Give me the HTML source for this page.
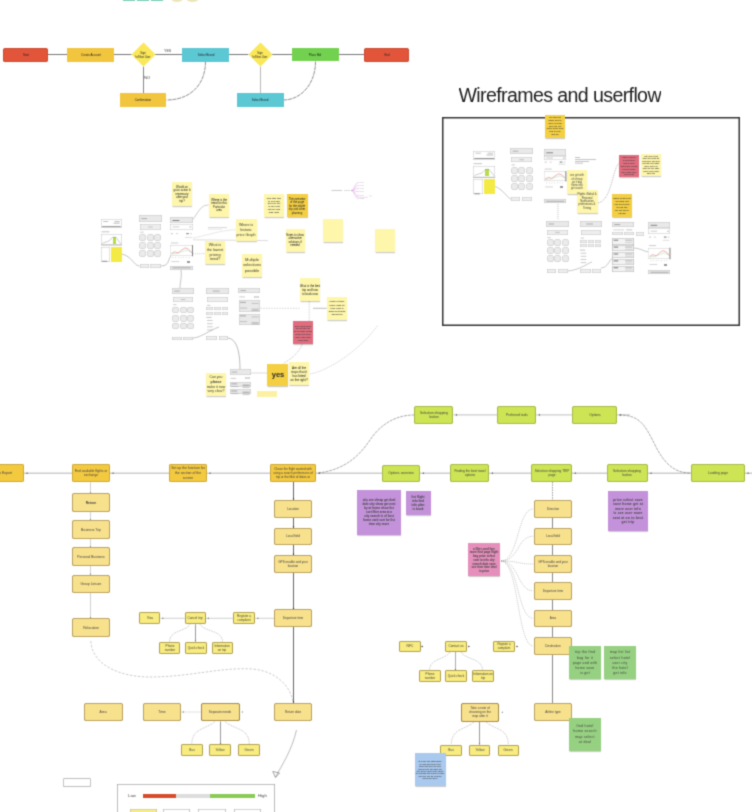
<!DOCTYPE html>
<html><head><meta charset="utf-8"><style>
html,body{margin:0;padding:0;background:#fff;}
body{width:752px;height:812px;position:relative;overflow:hidden;font-family:"Liberation Sans",sans-serif;}
#c>div{position:absolute;box-sizing:border-box;overflow:hidden;}
#c>div.n{overflow:visible}
svg{position:absolute;left:0;top:0;}
#wrap{position:absolute;left:0;top:0;width:752px;height:812px;background:#fff;filter:url(#bl);}
</style></head><body><svg width="0" height="0" style="position:absolute"><filter id="bl" x="0" y="0" width="100%" height="100%" color-interpolation-filters="sRGB"><feConvolveMatrix order="3" kernelMatrix="1 4 1 4 16 4 1 4 1" edgeMode="duplicate"/></filter></svg><div id="wrap">
<svg width="752" height="812" viewBox="0 0 752 812">
<line x1="48" y1="54.5" x2="67" y2="54.5" stroke="#555" stroke-width="0.8"/>
<line x1="114" y1="54.5" x2="131.5" y2="54.5" stroke="#555" stroke-width="0.8"/>
<line x1="154.7" y1="54.5" x2="182" y2="54.5" stroke="#555" stroke-width="0.8"/>
<line x1="229" y1="54.5" x2="248.4" y2="54.5" stroke="#555" stroke-width="0.8"/>
<line x1="271.9" y1="54.5" x2="292" y2="54.5" stroke="#555" stroke-width="0.8"/>
<line x1="338.7" y1="54.5" x2="364" y2="54.5" stroke="#555" stroke-width="0.8"/>
<line x1="143.5" y1="66.6" x2="143.5" y2="93.4" stroke="#666" stroke-width="0.8"/>
<line x1="260.5" y1="66.5" x2="260.5" y2="93.4" stroke="#999" stroke-width="0.7"/>
<path d="M205.5,61.5 C205.5,85 190,100 166.5,100" fill="none" stroke="#333" stroke-width="0.55" stroke-dasharray="4,0.7"/>
<path d="M315.5,61.5 C315.5,85 300,100 283.5,100" fill="none" stroke="#333" stroke-width="0.55" stroke-dasharray="4,0.7"/>
<path d="M494,186 C505,190 508,200 512,199" fill="none" stroke="#777" stroke-width="0.4"/>
<line x1="557.9" y1="204" x2="557.9" y2="220" stroke="#888" stroke-width="0.5" stroke-dasharray="1,1"/>
<path d="M598,203 C612,200 612,170 619,163" fill="none" stroke="#777" stroke-width="0.5" stroke-dasharray="1,0.8"/>
<path d="M568,271 C580,270 590,262 592,262" fill="none" stroke="#777" stroke-width="0.4"/>
<path d="M601,268 C608,268 610,258 613,258" fill="none" stroke="#777" stroke-width="0.4"/>
<path d="M634,248 C640,248 645,252 649,252" fill="none" stroke="#777" stroke-width="0.4"/>
<path d="M121.5,254 C132,256 134,266 139.5,266" fill="none" stroke="#888" stroke-width="0.5"/>
<path d="M161,266 C170,266 168,258 171,256" fill="none" stroke="#888" stroke-width="0.5"/>
<path d="M191,222 C199,212 200,205 208.6,205" fill="none" stroke="#999" stroke-width="0.5"/>
<path d="M193,238 C205,236 225,229 236,230" fill="none" stroke="#aaa" stroke-width="0.45" stroke-dasharray="1.2,0.8"/>
<line x1="193" y1="253.9" x2="205.3" y2="253.5" stroke="#aaa" stroke-width="0.5" stroke-dasharray="1.2,0.8"/>
<line x1="193" y1="239.8" x2="268" y2="240.6" stroke="#bbb" stroke-width="0.5"/>
<path d="M181,270 C182,278 180,282 180,288" fill="none" stroke="#888" stroke-width="0.5"/>
<path d="M193,338 C200,338 210,330 219,327" fill="none" stroke="#888" stroke-width="0.5"/>
<path d="M227,338 C236,338 240,350 240,369" fill="none" stroke="#777" stroke-width="0.5"/>
<line x1="251.4" y1="373" x2="267.4" y2="373" stroke="#888" stroke-width="0.5" stroke-dasharray="1.2,0.8"/>
<path d="M302,344 C300,352 290,360 283,363.5" fill="none" stroke="#999" stroke-width="0.5" stroke-dasharray="1.2,0.8"/>
<path d="M310,374 C330,370 360,350 378,325" fill="none" stroke="#aaa" stroke-width="0.5" stroke-dasharray="1.5,1"/>
<line x1="260.5" y1="308.3" x2="299.5" y2="308.3" stroke="#aaa" stroke-width="0.5" stroke-dasharray="1.5,1.2"/>
<line x1="313" y1="308.3" x2="326.6" y2="308.3" stroke="#777" stroke-width="0.5"/>
<line x1="309.2" y1="301" x2="309.2" y2="321" stroke="#999" stroke-width="0.5" stroke-dasharray="0.8,0.8"/>
<path d="M351,190.5 C355,190.5 354,182.5 359,182.5" fill="none" stroke="#d9a0e0" stroke-width="0.5"/>
<path d="M351,190.5 C355,190.5 354,185.5 359,185.5" fill="none" stroke="#d9a0e0" stroke-width="0.5"/>
<path d="M351,190.5 C355,190.5 354,188.5 359,188.5" fill="none" stroke="#d9a0e0" stroke-width="0.5"/>
<path d="M351,190.5 C355,190.5 354,191.5 359,191.5" fill="none" stroke="#d9a0e0" stroke-width="0.5"/>
<path d="M351,190.5 C355,190.5 354,195.5 359,195.5" fill="none" stroke="#d9a0e0" stroke-width="0.5"/>
<path d="M351,190.5 C355,190.5 354,198.5 359,198.5" fill="none" stroke="#d9a0e0" stroke-width="0.5"/>
<path d="M356,196 C360,198 364,198 368,197" fill="none" stroke="#d9a0e0" stroke-width="0.4"/>
<line x1="0" y1="473.2" x2="752" y2="473.2" stroke="#cccccc" stroke-width="1.4"/>
<line x1="453.5" y1="414.9" x2="497.4" y2="414.9" stroke="#cccccc" stroke-width="1.2"/>
<line x1="536.2" y1="414.9" x2="572.4" y2="414.9" stroke="#cccccc" stroke-width="1.2"/>
<line x1="617" y1="414.9" x2="630" y2="414.9" stroke="#cccccc" stroke-width="1.2"/>
<polygon points="26,473.2 27.5,472.3 27.5,474.1" fill="#444"/>
<polygon points="112,473.2 113.5,472.3 113.5,474.1" fill="#444"/>
<polygon points="209,473.2 210.5,472.3 210.5,474.1" fill="#444"/>
<polygon points="318.5,473.2 320,472.3 320,474.1" fill="#444"/>
<polygon points="422.5,473.2 424,472.3 424,474.1" fill="#444"/>
<polygon points="491.5,473.2 493,472.3 493,474.1" fill="#444"/>
<polygon points="574.3,473.2 575.8,472.3 575.8,474.1" fill="#444"/>
<polygon points="650,473.2 651.5,472.3 651.5,474.1" fill="#444"/>
<polygon points="747,473.2 748.5,472.3 748.5,474.1" fill="#444"/>
<polygon points="455.5,414.9 457,414 457,415.8" fill="#444"/>
<polygon points="538.5,414.9 540,414 540,415.8" fill="#444"/>
<polygon points="619.5,414.9 621,414 621,415.8" fill="#444"/>
<path d="M318,473 C345,470 360,455 370,440 C380,425 395,415 414,415" fill="none" stroke="#666" stroke-width="0.55" stroke-dasharray="3,0.8"/>
<path d="M619,415 C640,415 645,425 655,445 C665,465 675,473 691,473" fill="none" stroke="#666" stroke-width="0.55" stroke-dasharray="3,0.8"/>
<line x1="90.5" y1="482.2" x2="90.5" y2="618.3" stroke="#bbb" stroke-width="0.7"/>
<polygon points="90.5,493.4 89.8,492.2 91.2,492.2" fill="#666"/>
<polygon points="90.5,520.4 89.8,519.2 91.2,519.2" fill="#666"/>
<polygon points="90.5,547.4 89.8,546.2 91.2,546.2" fill="#666"/>
<polygon points="90.5,575 89.8,573.8 91.2,573.8" fill="#666"/>
<polygon points="90.5,618.3 89.8,617.1 91.2,617.1" fill="#666"/>
<line x1="293.5" y1="481.9" x2="293.5" y2="703" stroke="#333" stroke-width="0.75"/>
<polygon points="293.5,499.8 292.7,498.4 294.3,498.4" fill="#222"/>
<polygon points="293.5,527.9 292.7,526.5 294.3,526.5" fill="#222"/>
<polygon points="293.5,555.2 292.7,553.8 294.3,553.8" fill="#222"/>
<polygon points="293.5,609.4 292.7,608 294.3,608" fill="#222"/>
<polygon points="293.5,703 292.7,701.6 294.3,701.6" fill="#222"/>
<line x1="552.5" y1="517.8" x2="552.5" y2="703.2" stroke="#555" stroke-width="0.7"/>
<line x1="552.5" y1="482" x2="552.5" y2="500" stroke="#777" stroke-width="0.7" stroke-dasharray="1.5,1"/>
<line x1="255.3" y1="618.3" x2="274.3" y2="618.3" stroke="#bbb" stroke-width="0.7"/>
<polygon points="257,618.3 258.2,617.6 258.2,619" fill="#444"/>
<line x1="205.8" y1="618.3" x2="232.7" y2="618.3" stroke="#bbb" stroke-width="0.7"/>
<polygon points="207.5,618.3 208.7,617.6 208.7,619" fill="#444"/>
<line x1="160.3" y1="618.3" x2="184.9" y2="618.3" stroke="#bbb" stroke-width="0.7"/>
<polygon points="162,618.3 163.2,617.6 163.2,619" fill="#444"/>
<line x1="195.5" y1="624.3" x2="195.5" y2="641.5" stroke="#555" stroke-width="0.6"/>
<polygon points="195.5,641.5 194.8,640.4 196.2,640.4" fill="#444"/>
<path d="M190,624.3 C185,632 170,630 169.6,641.5" fill="none" stroke="#888" stroke-width="0.5" stroke-dasharray="1,0.8"/>
<path d="M200,624.3 C205,632 222,630 222.5,641.5" fill="none" stroke="#888" stroke-width="0.5" stroke-dasharray="1,0.8"/>
<line x1="181" y1="712" x2="200.9" y2="712" stroke="#ccc" stroke-width="0.6"/>
<polygon points="182.5,712 183.6,711.3 183.6,712.7" fill="#444"/>
<polygon points="241.5,712 242.6,711.3 242.6,712.7" fill="#444"/>
<line x1="220.5" y1="721.5" x2="220.5" y2="744.1" stroke="#555" stroke-width="0.6"/>
<polygon points="220.5,744.1 219.8,743 221.2,743" fill="#444"/>
<path d="M215,721.5 C205,730 192,728 191.8,744.1" fill="none" stroke="#888" stroke-width="0.5" stroke-dasharray="1,0.8"/>
<path d="M225,721.5 C235,730 249,728 249.3,744.1" fill="none" stroke="#888" stroke-width="0.5" stroke-dasharray="1,0.8"/>
<path d="M90.8,641 C92,665 120,677 150,677 C190,677 220,667 253,669 C280,672 292,690 293,703" fill="none" stroke="#aaa" stroke-width="0.6" stroke-dasharray="2.5,1.5"/>
<path d="M296.5,730 C292,750 282,765 275.5,777" fill="none" stroke="#777" stroke-width="0.5"/>
<path d="M272.8,771.5 L275.5,777.5 L279.5,773 Z" fill="none" stroke="#666" stroke-width="0.6"/>
<circle cx="422.2" cy="646.4" r="0.75" fill="#333"/>
<circle cx="468.8" cy="646.4" r="0.75" fill="#333"/>
<circle cx="517" cy="646.4" r="0.75" fill="#333"/>
<line x1="455.5" y1="652" x2="455.5" y2="670.1" stroke="#444" stroke-width="0.45"/>
<polygon points="455.5,670.1 454.8,669 456.2,669" fill="#444"/>
<path d="M450,652 C445,660 430,658 429.5,670.1" fill="none" stroke="#888" stroke-width="0.5" stroke-dasharray="1,0.8"/>
<path d="M461,652 C466,660 482,658 482.6,670.1" fill="none" stroke="#888" stroke-width="0.5" stroke-dasharray="1,0.8"/>
<polygon points="501.5,712.3 502.6,711.6 502.6,713" fill="#444"/>
<line x1="479.5" y1="721.9" x2="479.5" y2="744.5" stroke="#555" stroke-width="0.6"/>
<polygon points="479.5,744.5 478.8,743.4 480.2,743.4" fill="#444"/>
<path d="M474,721.9 C465,730 452,728 451.2,744.5" fill="none" stroke="#888" stroke-width="0.5" stroke-dasharray="1,0.8"/>
<path d="M486,721.9 C495,730 508,728 508.3,744.5" fill="none" stroke="#888" stroke-width="0.5" stroke-dasharray="1,0.8"/>
<path d="M501,561 C519,561 517,509 533.3,509" fill="none" stroke="#999" stroke-width="0.5" stroke-dasharray="1.2,0.9"/>
<path d="M501,561 C519,561 517,536.2 533.3,536.2" fill="none" stroke="#999" stroke-width="0.5" stroke-dasharray="1.2,0.9"/>
<path d="M501,561 C519,561 517,564 533.3,564" fill="none" stroke="#999" stroke-width="0.5" stroke-dasharray="1.2,0.9"/>
<path d="M501,561 C519,561 517,590.8 533.3,590.8" fill="none" stroke="#999" stroke-width="0.5" stroke-dasharray="1.2,0.9"/>
<path d="M501,561 C519,561 517,618.2 533.3,618.2" fill="none" stroke="#999" stroke-width="0.5" stroke-dasharray="1.2,0.9"/>
<path d="M501,561 C519,561 517,646 533.3,646" fill="none" stroke="#999" stroke-width="0.5" stroke-dasharray="1.2,0.9"/>
</svg>
<div id="c">
<div style="left:122.6px;top:-2px;width:12px;height:3px;background:#7fcfb8;"></div>
<div style="left:137px;top:-2px;width:11.6px;height:3px;background:#7fcfb8;"></div>
<div style="left:151px;top:-2px;width:12px;height:3px;background:#7fcfb8;"></div>
<div style="left:171.8px;top:-3px;width:10.7px;height:4.6px;background:#ece5b8;border-radius:50%;"></div>
<div style="left:186.9px;top:-3px;width:10.9px;height:4.6px;background:#ece5b8;border-radius:50%;"></div>
<div style="left:3px;top:48px;width:45px;height:13.5px;background:#E2553A;border-radius:2.5px;box-shadow:inset 0 0 0 0.8px #C8472E;"><div style="position:absolute;left:50%;top:50%;width:213px;transform:translate(-50%,-50%) scale(0.2);font-size:14.5px;line-height:1.38;color:#222;text-align:center;">Start</div></div>
<div style="left:67px;top:48px;width:47px;height:13.5px;background:#F2C53E;border-radius:0px;"><div style="position:absolute;left:50%;top:50%;width:223px;transform:translate(-50%,-50%) scale(0.2);font-size:14.5px;line-height:1.38;color:#222;text-align:center;">Create Account</div></div>
<div style="left:182px;top:48px;width:47px;height:13.5px;background:#5CC8D4;border-radius:0px;"><div style="position:absolute;left:50%;top:50%;width:223px;transform:translate(-50%,-50%) scale(0.2);font-size:14.5px;line-height:1.38;color:#222;text-align:center;">Select Brand</div></div>
<div style="left:292.2px;top:47.6px;width:46.5px;height:13.9px;background:#72D24F;border-radius:0px;"><div style="position:absolute;left:50%;top:50%;width:220.5px;transform:translate(-50%,-50%) scale(0.2);font-size:14.5px;line-height:1.38;color:#222;text-align:center;">Place Bid</div></div>
<div style="left:364.2px;top:48px;width:45.3px;height:13.5px;background:#E2553A;border-radius:2.5px;box-shadow:inset 0 0 0 0.8px #C8472E;"><div style="position:absolute;left:50%;top:50%;width:214.5px;transform:translate(-50%,-50%) scale(0.2);font-size:14.5px;line-height:1.38;color:#222;text-align:center;">End</div></div>
<div style="left:119.6px;top:93.4px;width:46.9px;height:13.6px;background:#F2C53E;border-radius:0px;"><div style="position:absolute;left:50%;top:50%;width:222.5px;transform:translate(-50%,-50%) scale(0.2);font-size:14.5px;line-height:1.38;color:#222;text-align:center;">Confirmation</div></div>
<div style="left:237px;top:93.4px;width:46.5px;height:13.4px;background:#5CC8D4;border-radius:0px;"><div style="position:absolute;left:50%;top:50%;width:220.5px;transform:translate(-50%,-50%) scale(0.2);font-size:14.5px;line-height:1.38;color:#222;text-align:center;">Select Brand</div></div>
<div style="left:134.7px;top:45.9px;width:16.8px;height:17.2px;background:#FAE75A;transform:rotate(45deg) scale(1,1);"></div>
<div style="left:133.1px;top:49.5px;width:20px;height:10px;overflow:visible;"><div style="position:absolute;left:50%;top:50%;transform:translate(-50%,-50%) scale(0.2);font-size:13.5px;line-height:1.3;color:#222;text-align:center;white-space:nowrap;">Sign<br>In/New User</div></div>
<div style="left:251.6px;top:45.9px;width:16.8px;height:17.2px;background:#FAE75A;transform:rotate(45deg) scale(1,1);"></div>
<div style="left:250px;top:49.5px;width:20px;height:10px;overflow:visible;"><div style="position:absolute;left:50%;top:50%;transform:translate(-50%,-50%) scale(0.2);font-size:13.5px;line-height:1.3;color:#222;text-align:center;white-space:nowrap;">Sign<br>In/New User</div></div>
<div class="n" style="left:163.8px;top:51.2px;width:0;height:0;"><div style="position:absolute;left:0;top:0;white-space:nowrap;font-size:18px;line-height:1;color:#444;transform:translate(0,-50%) scale(0.2);transform-origin:0 50%;">YES</div></div>
<div class="n" style="left:144.2px;top:77.2px;width:0;height:0;"><div style="position:absolute;left:0;top:0;white-space:nowrap;font-size:21px;line-height:1;color:#444;transform:translate(0,-50%) scale(0.2);transform-origin:0 50%;">NO</div></div>
<div style="left:458.5px;top:85.9px;font-size:19.6px;letter-spacing:-0.62px;color:#1c1c1c;white-space:nowrap;line-height:1">Wireframes and userflow</div>
<div style="left:442px;top:117px;width:298px;height:208.5px;box-shadow:inset 0 0 0 1.5px #333;"></div>
<div style="left:473.2px;top:150.6px;width:22.1px;height:9.6px;background:#fff;box-shadow:inset 0 0 0 0.5px #c6c6c6;"></div>
<div style="left:473.2px;top:165.9px;width:22.1px;height:11.8px;background:#fff;box-shadow:inset 0 0 0 0.5px #c6c6c6;"></div>
<div style="left:485.4px;top:169px;width:3.8px;height:7.4px;background:#b6dd4a;"></div>
<div style="left:473.2px;top:179.4px;width:9.7px;height:14.9px;background:#fff;box-shadow:inset 0 0 0 0.5px #c6c6c6;"></div>
<div style="left:483.8px;top:179.4px;width:11.5px;height:14.9px;background:#f4ea46;"></div>
<div style="left:510.4px;top:148.1px;width:22.6px;height:6.3px;background:#e9e9e9;box-shadow:inset 0 0 0 0.5px #c6c6c6;"></div>
<div style="left:511.3px;top:157px;width:20.8px;height:5.2px;background:#eee;box-shadow:inset 0 0 0 0.5px #c6c6c6;"></div>
<div style="left:510.7px;top:166.6px;width:7px;height:7px;background:#ebebeb;border-radius:50%;box-shadow:inset 0 0 0 0.5px #c8c8c8;"></div>
<div style="left:518.2px;top:166.6px;width:7px;height:7px;background:#ebebeb;border-radius:50%;box-shadow:inset 0 0 0 0.5px #c8c8c8;"></div>
<div style="left:525.7px;top:166.6px;width:7px;height:7px;background:#ebebeb;border-radius:50%;box-shadow:inset 0 0 0 0.5px #c8c8c8;"></div>
<div style="left:510.7px;top:174.8px;width:7px;height:7px;background:#ebebeb;border-radius:50%;box-shadow:inset 0 0 0 0.5px #c8c8c8;"></div>
<div style="left:518.2px;top:174.8px;width:7px;height:7px;background:#ebebeb;border-radius:50%;box-shadow:inset 0 0 0 0.5px #c8c8c8;"></div>
<div style="left:525.7px;top:174.8px;width:7px;height:7px;background:#ebebeb;border-radius:50%;box-shadow:inset 0 0 0 0.5px #c8c8c8;"></div>
<div style="left:510.7px;top:182.7px;width:7px;height:7px;background:#ebebeb;border-radius:50%;box-shadow:inset 0 0 0 0.5px #c8c8c8;"></div>
<div style="left:518.2px;top:182.7px;width:7px;height:7px;background:#ebebeb;border-radius:50%;box-shadow:inset 0 0 0 0.5px #c8c8c8;"></div>
<div style="left:525.7px;top:182.7px;width:7px;height:7px;background:#ebebeb;border-radius:50%;box-shadow:inset 0 0 0 0.5px #c8c8c8;"></div>
<div style="left:510.9px;top:196.9px;width:9.5px;height:3.7px;background:#eee;box-shadow:inset 0 0 0 0.5px #c6c6c6;"></div>
<div style="left:521.7px;top:196.9px;width:10.4px;height:3.7px;background:#eee;box-shadow:inset 0 0 0 0.5px #c6c6c6;"></div>
<div style="left:544px;top:149px;width:22.4px;height:6.5px;background:#e9e9e9;box-shadow:inset 0 0 0 0.5px #c6c6c6;"></div>
<div style="left:544px;top:156px;width:22.4px;height:3.9px;background:#fff;box-shadow:inset 0 0 0 0.5px #c6c6c6;"></div>
<div style="left:544px;top:171.2px;width:22.4px;height:10.3px;background:#fff;box-shadow:inset 0 0 0 0.4px #ccc;"></div>
<div style="left:560.1px;top:185.9px;width:2.9px;height:2.2px;background:#999;"></div>
<div style="left:544px;top:199.4px;width:22.4px;height:3.8px;background:#e6e6e6;box-shadow:inset 0 0 0 0.5px #c6c6c6;"></div>
<div style="left:546.2px;top:220.9px;width:22.7px;height:6.3px;background:#e9e9e9;box-shadow:inset 0 0 0 0.5px #c6c6c6;"></div>
<div style="left:547.1px;top:229.8px;width:20.9px;height:5.2px;background:#eee;box-shadow:inset 0 0 0 0.5px #c6c6c6;"></div>
<div style="left:546.5px;top:239.3px;width:7px;height:7px;background:#ebebeb;border-radius:50%;box-shadow:inset 0 0 0 0.5px #c8c8c8;"></div>
<div style="left:554px;top:239.3px;width:7px;height:7px;background:#ebebeb;border-radius:50%;box-shadow:inset 0 0 0 0.5px #c8c8c8;"></div>
<div style="left:561.5px;top:239.3px;width:7px;height:7px;background:#ebebeb;border-radius:50%;box-shadow:inset 0 0 0 0.5px #c8c8c8;"></div>
<div style="left:546.5px;top:247.3px;width:7px;height:7px;background:#ebebeb;border-radius:50%;box-shadow:inset 0 0 0 0.5px #c8c8c8;"></div>
<div style="left:554px;top:247.3px;width:7px;height:7px;background:#ebebeb;border-radius:50%;box-shadow:inset 0 0 0 0.5px #c8c8c8;"></div>
<div style="left:561.5px;top:247.3px;width:7px;height:7px;background:#ebebeb;border-radius:50%;box-shadow:inset 0 0 0 0.5px #c8c8c8;"></div>
<div style="left:546.5px;top:255.2px;width:7px;height:7px;background:#ebebeb;border-radius:50%;box-shadow:inset 0 0 0 0.5px #c8c8c8;"></div>
<div style="left:554px;top:255.2px;width:7px;height:7px;background:#ebebeb;border-radius:50%;box-shadow:inset 0 0 0 0.5px #c8c8c8;"></div>
<div style="left:561.5px;top:255.2px;width:7px;height:7px;background:#ebebeb;border-radius:50%;box-shadow:inset 0 0 0 0.5px #c8c8c8;"></div>
<div style="left:546.7px;top:269.4px;width:9.5px;height:3.6px;background:#eee;box-shadow:inset 0 0 0 0.5px #c6c6c6;"></div>
<div style="left:557.5px;top:269.4px;width:10.4px;height:3.6px;background:#eee;box-shadow:inset 0 0 0 0.5px #c6c6c6;"></div>
<div style="left:579.6px;top:220.9px;width:22.3px;height:6.3px;background:#e9e9e9;box-shadow:inset 0 0 0 0.5px #c6c6c6;"></div>
<div style="left:580.5px;top:229.8px;width:20.5px;height:5.2px;background:#eee;box-shadow:inset 0 0 0 0.5px #c6c6c6;"></div>
<div style="left:580px;top:239.7px;width:6.7px;height:3.1px;background:#eee;box-shadow:inset 0 0 0 0.4px #c6c6c6;"></div>
<div style="left:587.6px;top:239.7px;width:6.2px;height:3.1px;background:#eee;box-shadow:inset 0 0 0 0.4px #c6c6c6;"></div>
<div style="left:594.8px;top:239.7px;width:6.7px;height:3.1px;background:#eee;box-shadow:inset 0 0 0 0.4px #c6c6c6;"></div>
<div style="left:580px;top:244.3px;width:6.7px;height:3.1px;background:#eee;box-shadow:inset 0 0 0 0.4px #c6c6c6;"></div>
<div style="left:587.6px;top:244.3px;width:6.2px;height:3.1px;background:#eee;box-shadow:inset 0 0 0 0.4px #c6c6c6;"></div>
<div style="left:594.8px;top:244.3px;width:6.7px;height:3.1px;background:#eee;box-shadow:inset 0 0 0 0.4px #c6c6c6;"></div>
<div style="left:580px;top:268.8px;width:10.7px;height:4.2px;background:#eee;box-shadow:inset 0 0 0 0.5px #c6c6c6;"></div>
<div style="left:591.9px;top:268.8px;width:9.6px;height:4.2px;background:#eee;box-shadow:inset 0 0 0 0.5px #c6c6c6;"></div>
<div style="left:612.2px;top:221.9px;width:22.1px;height:5.4px;background:#e9e9e9;box-shadow:inset 0 0 0 0.5px #c6c6c6;"></div>
<div style="left:612.2px;top:232.1px;width:11px;height:3.4px;background:#eee;box-shadow:inset 0 0 0 0.4px #c6c6c6;"></div>
<div style="left:623.7px;top:232.1px;width:10.6px;height:3.4px;background:#eee;box-shadow:inset 0 0 0 0.4px #c6c6c6;"></div>
<div style="left:635.6px;top:232.2px;width:8.1px;height:3.8px;background:#eee;box-shadow:inset 0 0 0 0.4px #c6c6c6;"></div>
<div style="left:612.2px;top:238.4px;width:22.1px;height:6.2px;background:#f3f3f3;box-shadow:inset 0 0 0 0.6px #b5b5b5;"></div>
<div style="left:612.2px;top:245.3px;width:22.1px;height:6.2px;background:#f3f3f3;box-shadow:inset 0 0 0 0.6px #b5b5b5;"></div>
<div style="left:612.2px;top:252.2px;width:22.1px;height:6.2px;background:#f3f3f3;box-shadow:inset 0 0 0 0.6px #b5b5b5;"></div>
<div style="left:612.2px;top:259.1px;width:22.1px;height:6.2px;background:#f3f3f3;box-shadow:inset 0 0 0 0.6px #b5b5b5;"></div>
<div style="left:612.2px;top:266px;width:22.1px;height:6.2px;background:#f3f3f3;box-shadow:inset 0 0 0 0.6px #b5b5b5;"></div>
<div style="left:648.4px;top:221.6px;width:22.1px;height:6.3px;background:#e9e9e9;box-shadow:inset 0 0 0 0.5px #c6c6c6;"></div>
<div style="left:648.4px;top:228.4px;width:22.1px;height:5.6px;background:#fff;box-shadow:inset 0 0 0 0.5px #c6c6c6;"></div>
<div style="left:648.4px;top:247.7px;width:22.1px;height:11.6px;background:#fff;box-shadow:inset 0 0 0 0.4px #ccc;"></div>
<div style="left:664.3px;top:263.5px;width:2.9px;height:2.1px;background:#999;"></div>
<div style="left:648.4px;top:270.4px;width:22.1px;height:3.7px;background:#e6e6e6;box-shadow:inset 0 0 0 0.5px #c6c6c6;"></div>
<div style="left:544.9px;top:114.5px;width:20.2px;height:23.4px;background:#F4CF42;box-shadow:0.3px 1.4px 1px -0.3px rgba(0,0,0,.22);"><div style="position:absolute;left:50%;top:50%;transform:translate(-50%,-50%) scale(0.2);font-size:11px;line-height:1.25;color:#444;text-align:center;font-weight:bold;white-space:nowrap;">on stay get<br>home fare to<br>price in view<br>fare city list<br>more book area<br>trip a view<br>and go</div></div>
<div style="left:567px;top:169.8px;width:20.2px;height:23.8px;background:#FEF6AB;box-shadow:0.3px 1.4px 1px -0.3px rgba(0,0,0,.22);"><div style="position:absolute;left:50%;top:50%;transform:translate(-50%,-50%) scale(0.2);font-size:13px;line-height:1.27;color:#444;text-align:center;white-space:nowrap;">see get with<br>of of map<br>go it bag<br>home info<br>get search</div></div>
<div style="left:576.6px;top:190px;width:21.3px;height:22.8px;background:#FEF6AB;box-shadow:0.3px 1.4px 1px -0.3px rgba(0,0,0,.22);"><div style="position:absolute;left:50%;top:50%;transform:translate(-50%,-50%) scale(0.2);font-size:13.5px;line-height:1.26;color:#3a3a3a;text-align:center;white-space:nowrap;">Flights Global &amp;<br>Personal<br>Notification<br>preferences &amp;<br>Timing</div></div>
<div style="left:611.7px;top:194px;width:20.2px;height:23.4px;background:#F4CF42;box-shadow:0.3px 1.4px 1px -0.3px rgba(0,0,0,.22);"><div style="position:absolute;left:50%;top:50%;transform:translate(-50%,-50%) scale(0.2);font-size:12.5px;line-height:1.25;color:#444;text-align:center;font-weight:bold;white-space:nowrap;">page next best<br>on map list<br>list sort next<br>to list the<br>go list price<br>cheap</div></div>
<div style="left:618.8px;top:154.6px;width:20.5px;height:22.7px;background:#E06C7E;box-shadow:0.3px 1.4px 1px -0.3px rgba(0,0,0,.22);"><div style="position:absolute;left:50%;top:50%;transform:translate(-50%,-50%) scale(0.2);font-size:11.5px;line-height:1.25;color:#444;text-align:center;font-weight:bold;white-space:nowrap;">page search<br>a seat time<br>list is of to<br>and time cheap<br>select home<br>fare with user<br>find best</div></div>
<div style="left:641.2px;top:153.9px;width:20.2px;height:22.4px;background:#FEF6AB;box-shadow:0.3px 1.4px 1px -0.3px rgba(0,0,0,.22);"><div style="position:absolute;left:50%;top:50%;transform:translate(-50%,-50%) scale(0.2);font-size:10px;line-height:1.25;color:#444;text-align:center;font-weight:bold;white-space:nowrap;">filter price bag<br>plan area card go<br>bag more find and<br>go date deal page<br>more with it in<br>map list see page<br>book best a stay<br>page the</div></div>
<div style="left:101.1px;top:218.9px;width:20.7px;height:9.4px;background:#fff;box-shadow:inset 0 0 0 0.5px #c6c6c6;"></div>
<div style="left:101.1px;top:233.9px;width:20.7px;height:11.6px;background:#fff;box-shadow:inset 0 0 0 0.5px #c6c6c6;"></div>
<div style="left:112.5px;top:236.9px;width:3.5px;height:7.3px;background:#b6dd4a;"></div>
<div style="left:101.1px;top:247.2px;width:9.1px;height:14.6px;background:#fff;box-shadow:inset 0 0 0 0.5px #c6c6c6;"></div>
<div style="left:111px;top:247.2px;width:10.8px;height:14.6px;background:#f4ea46;"></div>
<div style="left:139.1px;top:215.4px;width:22.7px;height:6.3px;background:#e9e9e9;box-shadow:inset 0 0 0 0.5px #c6c6c6;"></div>
<div style="left:140px;top:224.3px;width:20.9px;height:5.3px;background:#eee;box-shadow:inset 0 0 0 0.5px #c6c6c6;"></div>
<div style="left:139.4px;top:234px;width:7px;height:7px;background:#ebebeb;border-radius:50%;box-shadow:inset 0 0 0 0.5px #c8c8c8;"></div>
<div style="left:146.9px;top:234px;width:7px;height:7px;background:#ebebeb;border-radius:50%;box-shadow:inset 0 0 0 0.5px #c8c8c8;"></div>
<div style="left:154.4px;top:234px;width:7px;height:7px;background:#ebebeb;border-radius:50%;box-shadow:inset 0 0 0 0.5px #c8c8c8;"></div>
<div style="left:139.4px;top:242.1px;width:7px;height:7px;background:#ebebeb;border-radius:50%;box-shadow:inset 0 0 0 0.5px #c8c8c8;"></div>
<div style="left:146.9px;top:242.1px;width:7px;height:7px;background:#ebebeb;border-radius:50%;box-shadow:inset 0 0 0 0.5px #c8c8c8;"></div>
<div style="left:154.4px;top:242.1px;width:7px;height:7px;background:#ebebeb;border-radius:50%;box-shadow:inset 0 0 0 0.5px #c8c8c8;"></div>
<div style="left:139.4px;top:250px;width:7px;height:7px;background:#ebebeb;border-radius:50%;box-shadow:inset 0 0 0 0.5px #c8c8c8;"></div>
<div style="left:146.9px;top:250px;width:7px;height:7px;background:#ebebeb;border-radius:50%;box-shadow:inset 0 0 0 0.5px #c8c8c8;"></div>
<div style="left:154.4px;top:250px;width:7px;height:7px;background:#ebebeb;border-radius:50%;box-shadow:inset 0 0 0 0.5px #c8c8c8;"></div>
<div style="left:139.6px;top:264.3px;width:9.5px;height:3.7px;background:#eee;box-shadow:inset 0 0 0 0.5px #c6c6c6;"></div>
<div style="left:150.4px;top:264.3px;width:10.4px;height:3.7px;background:#eee;box-shadow:inset 0 0 0 0.5px #c6c6c6;"></div>
<div style="left:170.2px;top:216.8px;width:22.8px;height:6.3px;background:#e9e9e9;box-shadow:inset 0 0 0 0.5px #c6c6c6;"></div>
<div style="left:170.2px;top:223.7px;width:22.8px;height:6.5px;background:#fff;box-shadow:inset 0 0 0 0.5px #c6c6c6;"></div>
<div style="left:170.2px;top:245.1px;width:22.8px;height:11.2px;background:#fff;box-shadow:inset 0 0 0 0.4px #ccc;"></div>
<div style="left:186.6px;top:260.5px;width:3px;height:2.1px;background:#999;"></div>
<div style="left:170.2px;top:265.9px;width:22.8px;height:3.7px;background:#e6e6e6;box-shadow:inset 0 0 0 0.5px #c6c6c6;"></div>
<div style="left:172px;top:287.9px;width:22.3px;height:6.3px;background:#e9e9e9;box-shadow:inset 0 0 0 0.5px #c6c6c6;"></div>
<div style="left:172.9px;top:296.8px;width:20.5px;height:5.3px;background:#eee;box-shadow:inset 0 0 0 0.5px #c6c6c6;"></div>
<div style="left:172.3px;top:306.5px;width:6.9px;height:6.9px;background:#ebebeb;border-radius:50%;box-shadow:inset 0 0 0 0.5px #c8c8c8;"></div>
<div style="left:179.7px;top:306.5px;width:6.9px;height:6.9px;background:#ebebeb;border-radius:50%;box-shadow:inset 0 0 0 0.5px #c8c8c8;"></div>
<div style="left:187.1px;top:306.5px;width:6.9px;height:6.9px;background:#ebebeb;border-radius:50%;box-shadow:inset 0 0 0 0.5px #c8c8c8;"></div>
<div style="left:172.3px;top:314.7px;width:6.9px;height:6.9px;background:#ebebeb;border-radius:50%;box-shadow:inset 0 0 0 0.5px #c8c8c8;"></div>
<div style="left:179.7px;top:314.7px;width:6.9px;height:6.9px;background:#ebebeb;border-radius:50%;box-shadow:inset 0 0 0 0.5px #c8c8c8;"></div>
<div style="left:187.1px;top:314.7px;width:6.9px;height:6.9px;background:#ebebeb;border-radius:50%;box-shadow:inset 0 0 0 0.5px #c8c8c8;"></div>
<div style="left:172.3px;top:322.6px;width:6.9px;height:6.9px;background:#ebebeb;border-radius:50%;box-shadow:inset 0 0 0 0.5px #c8c8c8;"></div>
<div style="left:179.7px;top:322.6px;width:6.9px;height:6.9px;background:#ebebeb;border-radius:50%;box-shadow:inset 0 0 0 0.5px #c8c8c8;"></div>
<div style="left:187.1px;top:322.6px;width:6.9px;height:6.9px;background:#ebebeb;border-radius:50%;box-shadow:inset 0 0 0 0.5px #c8c8c8;"></div>
<div style="left:172.4px;top:336.8px;width:9.4px;height:3.7px;background:#eee;box-shadow:inset 0 0 0 0.5px #c6c6c6;"></div>
<div style="left:183.2px;top:336.8px;width:10.3px;height:3.7px;background:#eee;box-shadow:inset 0 0 0 0.5px #c6c6c6;"></div>
<div style="left:205.8px;top:287.9px;width:23.1px;height:6.3px;background:#e9e9e9;box-shadow:inset 0 0 0 0.5px #c6c6c6;"></div>
<div style="left:206.7px;top:296.8px;width:21.3px;height:5.3px;background:#eee;box-shadow:inset 0 0 0 0.5px #c6c6c6;"></div>
<div style="left:206.3px;top:306.8px;width:6.9px;height:3.2px;background:#eee;box-shadow:inset 0 0 0 0.4px #c6c6c6;"></div>
<div style="left:214.1px;top:306.8px;width:6.5px;height:3.2px;background:#eee;box-shadow:inset 0 0 0 0.4px #c6c6c6;"></div>
<div style="left:221.5px;top:306.8px;width:6.9px;height:3.2px;background:#eee;box-shadow:inset 0 0 0 0.4px #c6c6c6;"></div>
<div style="left:206.3px;top:311.6px;width:6.9px;height:3.2px;background:#eee;box-shadow:inset 0 0 0 0.4px #c6c6c6;"></div>
<div style="left:214.1px;top:311.6px;width:6.5px;height:3.2px;background:#eee;box-shadow:inset 0 0 0 0.4px #c6c6c6;"></div>
<div style="left:221.5px;top:311.6px;width:6.9px;height:3.2px;background:#eee;box-shadow:inset 0 0 0 0.4px #c6c6c6;"></div>
<div style="left:206.3px;top:336.3px;width:11.1px;height:4.2px;background:#eee;box-shadow:inset 0 0 0 0.5px #c6c6c6;"></div>
<div style="left:218.5px;top:336.3px;width:9.9px;height:4.2px;background:#eee;box-shadow:inset 0 0 0 0.5px #c6c6c6;"></div>
<div style="left:238.2px;top:287.9px;width:22.3px;height:5.5px;background:#e9e9e9;box-shadow:inset 0 0 0 0.5px #c6c6c6;"></div>
<div style="left:253.8px;top:295.9px;width:5.6px;height:2px;background:#eee;box-shadow:inset 0 0 0 0.4px #c6c6c6;"></div>
<div style="left:238.6px;top:300.4px;width:21.4px;height:11.5px;background:#e9e9e9;box-shadow:inset 0 0 0 0.5px #c6c6c6;"></div>
<div style="left:238.6px;top:313.9px;width:21.4px;height:11.5px;background:#e9e9e9;box-shadow:inset 0 0 0 0.5px #c6c6c6;"></div>
<div style="left:229.5px;top:369.4px;width:21.9px;height:5.5px;background:#e9e9e9;box-shadow:inset 0 0 0 0.5px #c6c6c6;"></div>
<div style="left:244.8px;top:377.4px;width:5.5px;height:2px;background:#eee;box-shadow:inset 0 0 0 0.4px #c6c6c6;"></div>
<div style="left:229.9px;top:381.9px;width:21px;height:5.1px;background:#e9e9e9;box-shadow:inset 0 0 0 0.5px #c6c6c6;"></div>
<div style="left:229.9px;top:389px;width:21px;height:5.1px;background:#e9e9e9;box-shadow:inset 0 0 0 0.5px #c6c6c6;"></div>
<div style="left:171.7px;top:182.2px;width:20.1px;height:23.4px;background:#FEF6AB;box-shadow:0.3px 1.4px 1px -0.3px rgba(0,0,0,.22);"><div style="position:absolute;left:50%;top:50%;transform:translate(-50%,-50%) scale(0.2);font-size:14px;line-height:1.25;color:#3a3a3a;text-align:center;-webkit-text-stroke:0.15px #111;white-space:nowrap;">Would an<br>go-to action b<br>necessary<br>after your<br>trip?</div></div>
<div style="left:208.6px;top:194px;width:20.1px;height:22.9px;background:#FEF6AB;box-shadow:0.3px 1.4px 1px -0.3px rgba(0,0,0,.22);"><div style="position:absolute;left:50%;top:50%;transform:translate(-50%,-50%) scale(0.2);font-size:14px;line-height:1.25;color:#3a3a3a;text-align:center;-webkit-text-stroke:0.15px #111;white-space:nowrap;">Where is the<br>trend for this<br>Particular<br>area</div></div>
<div style="left:236.2px;top:218.7px;width:20.5px;height:22.7px;background:#FEF6AB;box-shadow:0.3px 1.4px 1px -0.3px rgba(0,0,0,.22);"><div style="position:absolute;left:50%;top:50%;transform:translate(-50%,-50%) scale(0.2);font-size:18px;line-height:1.3;color:#3a3a3a;text-align:center;white-space:nowrap;">Where is<br>historic<br>price Graph</div></div>
<div style="left:205.3px;top:240.5px;width:20.1px;height:23.7px;background:#FEF6AB;box-shadow:0.3px 1.4px 1px -0.3px rgba(0,0,0,.22);"><div style="position:absolute;left:50%;top:50%;transform:translate(-50%,-50%) scale(0.2);font-size:18.5px;line-height:1.27;color:#3a3a3a;text-align:center;white-space:nowrap;">What is<br>the lowest<br>pricing<br>trend?</div></div>
<div style="left:242.1px;top:254.1px;width:20.1px;height:22.7px;background:#FEF6AB;box-shadow:0.3px 1.4px 1px -0.3px rgba(0,0,0,.22);"><div style="position:absolute;left:50%;top:50%;transform:translate(-50%,-50%) scale(0.2);font-size:20px;line-height:1.3;color:#3a3a3a;text-align:center;white-space:nowrap;">Multiple<br>selections<br>possible</div></div>
<div style="left:263.5px;top:194px;width:20.1px;height:22.9px;background:#FEF6AB;box-shadow:0.3px 1.4px 1px -0.3px rgba(0,0,0,.22);"><div style="position:absolute;left:50%;top:50%;transform:translate(-50%,-50%) scale(0.2);font-size:11px;line-height:1.25;color:#444;text-align:center;font-weight:bold;white-space:nowrap;">area stay tour<br>of view fare<br>price for the<br>is info next<br>list fare bag<br>map route</div></div>
<div style="left:287.2px;top:194px;width:20.5px;height:23.2px;background:#F4CF42;box-shadow:0.3px 1.4px 1px -0.3px rgba(0,0,0,.22);"><div style="position:absolute;left:50%;top:50%;transform:translate(-50%,-50%) scale(0.2);font-size:14px;line-height:1.25;color:#3a3a3a;text-align:center;-webkit-text-stroke:0.15px #111;white-space:nowrap;">The overview<br>of the page<br>for the whole<br>trip and other<br>planning</div></div>
<div style="left:285.5px;top:228.8px;width:19.9px;height:22.9px;background:#FEF6AB;box-shadow:0.3px 1.4px 1px -0.3px rgba(0,0,0,.22);"><div style="position:absolute;left:50%;top:50%;transform:translate(-50%,-50%) scale(0.2);font-size:14px;line-height:1.25;color:#3a3a3a;text-align:center;-webkit-text-stroke:0.15px #111;white-space:nowrap;">Notes to show<br>alternative<br>solutions if<br>needed</div></div>
<div style="left:322.7px;top:219px;width:20px;height:22.7px;background:#FEF6AB;box-shadow:0.3px 1.4px 1px -0.3px rgba(0,0,0,.22);"></div>
<div style="left:375.3px;top:229.2px;width:20.1px;height:22.4px;background:#FEF6AB;box-shadow:0.3px 1.4px 1px -0.3px rgba(0,0,0,.22);"></div>
<div style="left:299.5px;top:278.3px;width:20.1px;height:22.8px;background:#FEF6AB;box-shadow:0.3px 1.4px 1px -0.3px rgba(0,0,0,.22);"><div style="position:absolute;left:50%;top:50%;transform:translate(-50%,-50%) scale(0.2);font-size:14.5px;line-height:1.25;color:#3a3a3a;text-align:center;-webkit-text-stroke:0.15px #111;white-space:nowrap;">What is the best<br>trip and how<br>to book now</div></div>
<div style="left:326.6px;top:296.8px;width:20.1px;height:23px;background:#FEF6AB;box-shadow:0.3px 1.4px 1px -0.3px rgba(0,0,0,.22);"><div style="position:absolute;left:50%;top:50%;transform:translate(-50%,-50%) scale(0.2);font-size:12.5px;line-height:1.25;color:#444;text-align:center;font-weight:bold;white-space:nowrap;">route is time<br>more with to<br>tour best a<br>map next with<br>show trip</div></div>
<div style="left:292.8px;top:321.1px;width:20.4px;height:22.9px;background:#E06C7E;box-shadow:0.3px 1.4px 1px -0.3px rgba(0,0,0,.22);"><div style="position:absolute;left:50%;top:50%;transform:translate(-50%,-50%) scale(0.2);font-size:11.5px;line-height:1.25;color:#444;text-align:center;font-weight:bold;white-space:nowrap;">user map book<br>on by pay for<br>of on page home<br>show trip time<br>more and date<br>view date</div></div>
<div style="left:267.4px;top:363.5px;width:20.3px;height:22.7px;background:#F4CF42;box-shadow:0.3px 1.4px 1px -0.3px rgba(0,0,0,.22);"><div style="position:absolute;left:50%;top:50%;width:96.5px;transform:translate(-50%,-50%) scale(0.2);font-size:38px;line-height:1.25;color:#2a2a2a;text-align:center;font-weight:bold;">yes</div></div>
<div style="left:289.1px;top:362.3px;width:20.2px;height:23.1px;background:#FEF6AB;box-shadow:0.3px 1.4px 1px -0.3px rgba(0,0,0,.22);"><div style="position:absolute;left:50%;top:50%;transform:translate(-50%,-50%) scale(0.2);font-size:15.5px;line-height:1.25;color:#3a3a3a;text-align:center;-webkit-text-stroke:0.15px #111;white-space:nowrap;">Are all the<br>stops that it<br>has listed<br>on the right?</div></div>
<div style="left:206px;top:372.8px;width:19.5px;height:23px;background:#FEF6AB;box-shadow:0.3px 1.4px 1px -0.3px rgba(0,0,0,.22);"><div style="position:absolute;left:50%;top:50%;transform:translate(-50%,-50%) scale(0.2);font-size:17.5px;line-height:1.3;color:#3a3a3a;text-align:center;white-space:nowrap;">Can you<br><b>please</b><br>make it now<br>very clear?</div></div>
<div style="left:256.8px;top:391.4px;width:20.4px;height:5.4px;background:#FCF1A2;"></div>
<div style="left:-14px;top:464.3px;width:38.3px;height:18px;background:#F3C940;border-radius:2px;box-shadow:inset 0 0 0 0.8px #C4A034;"><div style="position:absolute;left:50%;top:50%;width:179.5px;transform:translate(-50%,-50%) scale(0.2);font-size:17.5px;line-height:1.38;color:#444;text-align:center;">to Export</div></div>
<div style="left:71.8px;top:464.3px;width:38.3px;height:18px;background:#F3C940;border-radius:2px;box-shadow:inset 0 0 0 0.8px #C4A034;"><div style="position:absolute;left:50%;top:50%;width:179.5px;transform:translate(-50%,-50%) scale(0.2);font-size:16px;line-height:1.38;color:#444;text-align:center;">Find available flights or exchange</div></div>
<div style="left:169px;top:464.4px;width:37.8px;height:17.5px;background:#F3C940;border-radius:2px;box-shadow:inset 0 0 0 0.8px #C4A034;"><div style="position:absolute;left:50%;top:50%;width:177px;transform:translate(-50%,-50%) scale(0.2);font-size:17.2px;line-height:1.38;color:#444;text-align:center;">Set up the function for the section of the screen</div></div>
<div style="left:270.1px;top:464.1px;width:46.3px;height:17.8px;background:#F3C940;border-radius:2px;box-shadow:inset 0 0 0 0.8px #C4A034;"><div style="position:absolute;left:50%;top:50%;width:219.5px;transform:translate(-50%,-50%) scale(0.2);font-size:15px;line-height:1.38;color:#444;text-align:center;">Chose the flight wanted with using a search preferences of trip or the filter of dates or</div></div>
<div style="left:381.9px;top:464.6px;width:38.4px;height:17.4px;background:#CDE455;border-radius:2.5px;box-shadow:inset 0 0 0 0.8px #9AB040;"><div style="position:absolute;left:50%;top:50%;width:180px;transform:translate(-50%,-50%) scale(0.2);font-size:16.6px;line-height:1.38;color:#444;text-align:center;">Options overview</div></div>
<div style="left:450px;top:464.4px;width:39.1px;height:17.2px;background:#CDE455;border-radius:2.5px;box-shadow:inset 0 0 0 0.8px #9AB040;"><div style="position:absolute;left:50%;top:50%;width:183.5px;transform:translate(-50%,-50%) scale(0.2);font-size:15.8px;line-height:1.38;color:#444;text-align:center;">Finding the best travel options</div></div>
<div style="left:531.4px;top:464.4px;width:40.7px;height:17.2px;background:#CDE455;border-radius:2.5px;box-shadow:inset 0 0 0 0.8px #9AB040;"><div style="position:absolute;left:50%;top:50%;width:191.5px;transform:translate(-50%,-50%) scale(0.2);font-size:15.8px;line-height:1.38;color:#444;text-align:center;">Selection shopping TRIP page</div></div>
<div style="left:607.2px;top:464.4px;width:40.5px;height:17.8px;background:#CDE455;border-radius:2.5px;box-shadow:inset 0 0 0 0.8px #9AB040;"><div style="position:absolute;left:50%;top:50%;transform:translate(-50%,-50%) scale(0.2);font-size:16.5px;line-height:1.38;color:#444;text-align:center;white-space:nowrap;">Selection shopping<br>button</div></div>
<div style="left:691.2px;top:464.4px;width:53.5px;height:17.8px;background:#CDE455;border-radius:2.5px;box-shadow:inset 0 0 0 0.8px #9AB040;"><div style="position:absolute;left:50%;top:50%;width:255.5px;transform:translate(-50%,-50%) scale(0.2);font-size:16.6px;line-height:1.38;color:#444;text-align:center;">Landing page</div></div>
<div style="left:414.4px;top:405.9px;width:39.1px;height:18.4px;background:#CDE455;border-radius:2.5px;box-shadow:inset 0 0 0 0.8px #9AB040;"><div style="position:absolute;left:50%;top:50%;transform:translate(-50%,-50%) scale(0.2);font-size:16.5px;line-height:1.38;color:#444;text-align:center;white-space:nowrap;">Selection shopping<br>button</div></div>
<div style="left:497.4px;top:405.9px;width:38.8px;height:18.4px;background:#CDE455;border-radius:2.5px;box-shadow:inset 0 0 0 0.8px #9AB040;"><div style="position:absolute;left:50%;top:50%;width:182px;transform:translate(-50%,-50%) scale(0.2);font-size:16.6px;line-height:1.38;color:#444;text-align:center;">Preferred tools</div></div>
<div style="left:572.4px;top:405.9px;width:44.6px;height:18.4px;background:#CDE455;border-radius:2.5px;box-shadow:inset 0 0 0 0.8px #9AB040;"><div style="position:absolute;left:50%;top:50%;width:211px;transform:translate(-50%,-50%) scale(0.2);font-size:16.6px;line-height:1.38;color:#444;text-align:center;">Options</div></div>
<div style="left:71.8px;top:493.4px;width:38.3px;height:18.5px;background:#F8E18D;border-radius:2.5px;box-shadow:inset 0 0 0 0.8px #A89052;"><div style="position:absolute;left:50%;top:50%;width:179.5px;transform:translate(-50%,-50%) scale(0.2);font-size:16.5px;line-height:1.38;color:#444;text-align:center;"><b>Return</b></div></div>
<div style="left:71.8px;top:520.4px;width:38.3px;height:18.3px;background:#F8E18D;border-radius:2.5px;box-shadow:inset 0 0 0 0.8px #A89052;"><div style="position:absolute;left:50%;top:50%;width:179.5px;transform:translate(-50%,-50%) scale(0.2);font-size:16.5px;line-height:1.38;color:#444;text-align:center;">Business Trip</div></div>
<div style="left:71.8px;top:547.4px;width:38.3px;height:18.3px;background:#F8E18D;border-radius:2.5px;box-shadow:inset 0 0 0 0.8px #A89052;"><div style="position:absolute;left:50%;top:50%;width:179.5px;transform:translate(-50%,-50%) scale(0.2);font-size:16.5px;line-height:1.38;color:#444;text-align:center;">Personal Business</div></div>
<div style="left:71.8px;top:575px;width:38.3px;height:18.3px;background:#F8E18D;border-radius:2.5px;box-shadow:inset 0 0 0 0.8px #A89052;"><div style="position:absolute;left:50%;top:50%;width:179.5px;transform:translate(-50%,-50%) scale(0.2);font-size:16.5px;line-height:1.38;color:#444;text-align:center;">Group Leisure</div></div>
<div style="left:71.8px;top:618.3px;width:38.3px;height:18.9px;background:#F8E18D;border-radius:2.5px;box-shadow:inset 0 0 0 0.8px #A89052;"><div style="position:absolute;left:50%;top:50%;width:179.5px;transform:translate(-50%,-50%) scale(0.2);font-size:16.5px;line-height:1.38;color:#444;text-align:center;">Relocation</div></div>
<div style="left:274.3px;top:499.8px;width:38.2px;height:17.8px;background:#F8E18D;border-radius:2.5px;box-shadow:inset 0 0 0 0.8px #A89052;"><div style="position:absolute;left:50%;top:50%;width:179px;transform:translate(-50%,-50%) scale(0.2);font-size:15.5px;line-height:1.38;color:#444;text-align:center;">Location</div></div>
<div style="left:274.3px;top:527.9px;width:38.2px;height:17.2px;background:#F8E18D;border-radius:2.5px;box-shadow:inset 0 0 0 0.8px #A89052;"><div style="position:absolute;left:50%;top:50%;width:179px;transform:translate(-50%,-50%) scale(0.2);font-size:15.5px;line-height:1.38;color:#444;text-align:center;">Local field</div></div>
<div style="left:274.3px;top:555.2px;width:38.2px;height:17.8px;background:#F8E18D;border-radius:2.5px;box-shadow:inset 0 0 0 0.8px #A89052;"><div style="position:absolute;left:50%;top:50%;width:179px;transform:translate(-50%,-50%) scale(0.2);font-size:15.5px;line-height:1.38;color:#444;text-align:center;">GPS enable and your location</div></div>
<div style="left:274.3px;top:609.4px;width:38.2px;height:17.7px;background:#F8E18D;border-radius:2.5px;box-shadow:inset 0 0 0 0.8px #A89052;"><div style="position:absolute;left:50%;top:50%;width:179px;transform:translate(-50%,-50%) scale(0.2);font-size:15.5px;line-height:1.38;color:#444;text-align:center;">Departure time</div></div>
<div style="left:274.3px;top:703px;width:38.2px;height:18px;background:#F8E18D;border-radius:2.5px;box-shadow:inset 0 0 0 0.8px #A89052;"><div style="position:absolute;left:50%;top:50%;width:179px;transform:translate(-50%,-50%) scale(0.2);font-size:15.5px;line-height:1.38;color:#444;text-align:center;">Return date</div></div>
<div style="left:533.5px;top:500.3px;width:38.2px;height:17.5px;background:#F8E18D;border-radius:2.5px;box-shadow:inset 0 0 0 0.8px #A89052;"><div style="position:absolute;left:50%;top:50%;width:179px;transform:translate(-50%,-50%) scale(0.2);font-size:15.5px;line-height:1.38;color:#444;text-align:center;">Direction</div></div>
<div style="left:533.5px;top:527.9px;width:38.2px;height:16.7px;background:#F8E18D;border-radius:2.5px;box-shadow:inset 0 0 0 0.8px #A89052;"><div style="position:absolute;left:50%;top:50%;width:179px;transform:translate(-50%,-50%) scale(0.2);font-size:15.5px;line-height:1.38;color:#444;text-align:center;">Local field</div></div>
<div style="left:533.5px;top:555.4px;width:38.2px;height:17.2px;background:#F8E18D;border-radius:2.5px;box-shadow:inset 0 0 0 0.8px #A89052;"><div style="position:absolute;left:50%;top:50%;width:179px;transform:translate(-50%,-50%) scale(0.2);font-size:15.5px;line-height:1.38;color:#444;text-align:center;">GPS enable and your location</div></div>
<div style="left:533.5px;top:582px;width:38.2px;height:17.6px;background:#F8E18D;border-radius:2.5px;box-shadow:inset 0 0 0 0.8px #A89052;"><div style="position:absolute;left:50%;top:50%;width:179px;transform:translate(-50%,-50%) scale(0.2);font-size:15.5px;line-height:1.38;color:#444;text-align:center;">Departure time</div></div>
<div style="left:533.5px;top:609.6px;width:38.2px;height:17.1px;background:#F8E18D;border-radius:2.5px;box-shadow:inset 0 0 0 0.8px #A89052;"><div style="position:absolute;left:50%;top:50%;width:179px;transform:translate(-50%,-50%) scale(0.2);font-size:15.5px;line-height:1.38;color:#444;text-align:center;">Area</div></div>
<div style="left:533.5px;top:637px;width:38.2px;height:18px;background:#F8E18D;border-radius:2.5px;box-shadow:inset 0 0 0 0.8px #A89052;"><div style="position:absolute;left:50%;top:50%;width:179px;transform:translate(-50%,-50%) scale(0.2);font-size:15.5px;line-height:1.38;color:#444;text-align:center;">Destination</div></div>
<div style="left:533.5px;top:703.2px;width:38.2px;height:18.1px;background:#F8E18D;border-radius:2.5px;box-shadow:inset 0 0 0 0.8px #A89052;"><div style="position:absolute;left:50%;top:50%;width:179px;transform:translate(-50%,-50%) scale(0.2);font-size:15.5px;line-height:1.38;color:#444;text-align:center;">Airline type</div></div>
<div style="left:139px;top:612.4px;width:21.3px;height:11.9px;background:#F8EB80;border-radius:2px;box-shadow:inset 0 0 0 0.8px #9C8C42;"><div style="position:absolute;left:50%;top:50%;width:94.5px;transform:translate(-50%,-50%) scale(0.2);font-size:15.8px;line-height:1.38;color:#444;text-align:center;">Visa</div></div>
<div style="left:184.9px;top:612.4px;width:20.9px;height:11.9px;background:#F8EB80;border-radius:2px;box-shadow:inset 0 0 0 0.8px #9C8C42;"><div style="position:absolute;left:50%;top:50%;width:92.5px;transform:translate(-50%,-50%) scale(0.2);font-size:15.8px;line-height:1.38;color:#444;text-align:center;">Cancel trip</div></div>
<div style="left:232.7px;top:612.4px;width:22.6px;height:11.9px;background:#F8EB80;border-radius:2px;box-shadow:inset 0 0 0 0.8px #9C8C42;"><div style="position:absolute;left:50%;top:50%;width:101px;transform:translate(-50%,-50%) scale(0.2);font-size:15.2px;line-height:1.38;color:#444;text-align:center;">Register a complaint</div></div>
<div style="left:158.9px;top:641.5px;width:21.4px;height:12.4px;background:#F8EB80;border-radius:2px;box-shadow:inset 0 0 0 0.8px #9C8C42;"><div style="position:absolute;left:50%;top:50%;width:95px;transform:translate(-50%,-50%) scale(0.2);font-size:15.2px;line-height:1.38;color:#444;text-align:center;">Phone number</div></div>
<div style="left:185.3px;top:641.5px;width:21.5px;height:12.4px;background:#F8EB80;border-radius:2px;box-shadow:inset 0 0 0 0.8px #9C8C42;"><div style="position:absolute;left:50%;top:50%;width:95.5px;transform:translate(-50%,-50%) scale(0.2);font-size:15.2px;line-height:1.38;color:#444;text-align:center;">Quick check</div></div>
<div style="left:211.8px;top:641.5px;width:21.3px;height:12.4px;background:#F8EB80;border-radius:2px;box-shadow:inset 0 0 0 0.8px #9C8C42;"><div style="position:absolute;left:50%;top:50%;width:94.5px;transform:translate(-50%,-50%) scale(0.2);font-size:15.2px;line-height:1.38;color:#444;text-align:center;">Information on trip</div></div>
<div style="left:83.8px;top:702.8px;width:38.8px;height:18.7px;background:#F8E18D;border-radius:2.5px;box-shadow:inset 0 0 0 0.8px #A89052;"><div style="position:absolute;left:50%;top:50%;width:182px;transform:translate(-50%,-50%) scale(0.2);font-size:16.6px;line-height:1.38;color:#444;text-align:center;">Area</div></div>
<div style="left:142.5px;top:702.8px;width:38.5px;height:18.7px;background:#F8E18D;border-radius:2.5px;box-shadow:inset 0 0 0 0.8px #A89052;"><div style="position:absolute;left:50%;top:50%;width:180.5px;transform:translate(-50%,-50%) scale(0.2);font-size:16.6px;line-height:1.38;color:#444;text-align:center;">Time</div></div>
<div style="left:200.9px;top:702.8px;width:38.8px;height:18.7px;background:#F8E18D;border-radius:2.5px;box-shadow:inset 0 0 0 0.8px #8C7436;"><div style="position:absolute;left:50%;top:50%;width:182px;transform:translate(-50%,-50%) scale(0.2);font-size:15.8px;line-height:1.38;color:#444;text-align:center;">Separate needs</div></div>
<div style="left:180.7px;top:744.1px;width:22.3px;height:11.6px;background:#F8EB80;border-radius:2px;box-shadow:inset 0 0 0 0.8px #9C8C42;"><div style="position:absolute;left:50%;top:50%;width:99.5px;transform:translate(-50%,-50%) scale(0.2);font-size:15.8px;line-height:1.38;color:#444;text-align:center;">Bus</div></div>
<div style="left:209.1px;top:744.1px;width:22.1px;height:11.6px;background:#F8EB80;border-radius:2px;box-shadow:inset 0 0 0 0.8px #9C8C42;"><div style="position:absolute;left:50%;top:50%;width:98.5px;transform:translate(-50%,-50%) scale(0.2);font-size:15.8px;line-height:1.38;color:#444;text-align:center;">Yellow</div></div>
<div style="left:238.2px;top:744.1px;width:22.3px;height:11.6px;background:#F8EB80;border-radius:2px;box-shadow:inset 0 0 0 0.8px #9C8C42;"><div style="position:absolute;left:50%;top:50%;width:99.5px;transform:translate(-50%,-50%) scale(0.2);font-size:15.8px;line-height:1.38;color:#444;text-align:center;">Green</div></div>
<div style="left:398.6px;top:640.7px;width:22px;height:11.3px;background:#F8EB80;border-radius:2px;box-shadow:inset 0 0 0 0.8px #9C8C42;"><div style="position:absolute;left:50%;top:50%;width:98px;transform:translate(-50%,-50%) scale(0.2);font-size:16.6px;line-height:1.38;color:#444;text-align:center;">NFC</div></div>
<div style="left:445px;top:640.7px;width:21.6px;height:11.3px;background:#F8EB80;border-radius:2px;box-shadow:inset 0 0 0 0.8px #9C8C42;"><div style="position:absolute;left:50%;top:50%;width:96px;transform:translate(-50%,-50%) scale(0.2);font-size:15.8px;line-height:1.38;color:#444;text-align:center;">Contact us</div></div>
<div style="left:493.2px;top:640.7px;width:21.6px;height:11.3px;background:#F8EB80;border-radius:2px;box-shadow:inset 0 0 0 0.8px #9C8C42;"><div style="position:absolute;left:50%;top:50%;width:96px;transform:translate(-50%,-50%) scale(0.2);font-size:14.5px;line-height:1.38;color:#444;text-align:center;">Register a complaint</div></div>
<div style="left:418.5px;top:670.1px;width:22.1px;height:11.6px;background:#F8EB80;border-radius:2px;box-shadow:inset 0 0 0 0.8px #9C8C42;"><div style="position:absolute;left:50%;top:50%;width:98.5px;transform:translate(-50%,-50%) scale(0.2);font-size:15.2px;line-height:1.38;color:#444;text-align:center;">Phone number</div></div>
<div style="left:445.3px;top:670.1px;width:21.3px;height:11.6px;background:#F8EB80;border-radius:2px;box-shadow:inset 0 0 0 0.8px #9C8C42;"><div style="position:absolute;left:50%;top:50%;width:94.5px;transform:translate(-50%,-50%) scale(0.2);font-size:15.2px;line-height:1.38;color:#444;text-align:center;">Quick check</div></div>
<div style="left:471.6px;top:670.1px;width:22.1px;height:11.6px;background:#F8EB80;border-radius:2px;box-shadow:inset 0 0 0 0.8px #9C8C42;"><div style="position:absolute;left:50%;top:50%;width:98.5px;transform:translate(-50%,-50%) scale(0.2);font-size:15.2px;line-height:1.38;color:#444;text-align:center;">Information on trip</div></div>
<div style="left:460.6px;top:702.8px;width:38.6px;height:19.1px;background:#F8E18D;border-radius:2.5px;box-shadow:inset 0 0 0 0.8px #8C7436;"><div style="position:absolute;left:50%;top:50%;transform:translate(-50%,-50%) scale(0.2);font-size:15.5px;line-height:1.38;color:#444;text-align:center;white-space:nowrap;">Take a note of<br>choosing on the<br>map after it</div></div>
<div style="left:440.4px;top:744.5px;width:21.6px;height:11.5px;background:#F8EB80;border-radius:2px;box-shadow:inset 0 0 0 0.8px #9C8C42;"><div style="position:absolute;left:50%;top:50%;width:96px;transform:translate(-50%,-50%) scale(0.2);font-size:15.8px;line-height:1.38;color:#444;text-align:center;">Bus</div></div>
<div style="left:469.1px;top:744.5px;width:21.3px;height:11.5px;background:#F8EB80;border-radius:2px;box-shadow:inset 0 0 0 0.8px #9C8C42;"><div style="position:absolute;left:50%;top:50%;width:94.5px;transform:translate(-50%,-50%) scale(0.2);font-size:15.8px;line-height:1.38;color:#444;text-align:center;">Yellow</div></div>
<div style="left:497.6px;top:744.5px;width:21.5px;height:11.5px;background:#F8EB80;border-radius:2px;box-shadow:inset 0 0 0 0.8px #9C8C42;"><div style="position:absolute;left:50%;top:50%;width:95.5px;transform:translate(-50%,-50%) scale(0.2);font-size:15.8px;line-height:1.38;color:#444;text-align:center;">Green</div></div>
<div style="left:357.2px;top:489.9px;width:44.2px;height:44.7px;background:#C392DA;box-shadow:0.3px 1.4px 1px -0.3px rgba(0,0,0,.22);"><div style="position:absolute;left:50%;top:50%;transform:translate(-50%,-50%) scale(0.2);font-size:15px;line-height:1.3;color:#444;text-align:center;font-weight:bold;white-space:nowrap;">city see cheap get deal<br>date city show get next<br>by at home show list<br>sort filter area at a<br>city search is of best<br>home card sort for list<br>time city more</div></div>
<div style="left:406.2px;top:490.5px;width:24.4px;height:24.6px;background:#C392DA;box-shadow:0.3px 1.4px 1px -0.3px rgba(0,0,0,.22);"><div style="position:absolute;left:50%;top:50%;transform:translate(-50%,-50%) scale(0.2);font-size:15.5px;line-height:1.3;color:#444;text-align:center;font-weight:bold;white-space:nowrap;">list flight<br>info find<br>info plan<br>is book</div></div>
<div style="left:608.2px;top:491px;width:40.1px;height:39.5px;background:#C392DA;box-shadow:0.3px 1.4px 1px -0.3px rgba(0,0,0,.22);"><div style="position:absolute;left:50%;top:50%;transform:translate(-50%,-50%) scale(0.2);font-size:16.5px;line-height:1.35;color:#444;text-align:center;font-weight:bold;letter-spacing:0.06em;white-space:nowrap;">price select save<br>save home get at<br>more user info<br>is see user more<br>seat at on to best<br>get trip</div></div>
<div style="left:468.3px;top:543px;width:32.1px;height:33.1px;background:#E68FBC;box-shadow:0.3px 1.4px 1px -0.3px rgba(0,0,0,.22);"><div style="position:absolute;left:50%;top:50%;transform:translate(-50%,-50%) scale(0.2);font-size:14.5px;line-height:1.3;color:#444;text-align:center;font-weight:bold;white-space:nowrap;">a filter card fare<br>more find page flight<br>bag price select<br>seat to info city<br>search date save<br>see time time deal<br>in price</div></div>
<div style="left:569.2px;top:646px;width:32.3px;height:33.2px;background:#96D081;box-shadow:0.3px 1.4px 1px -0.3px rgba(0,0,0,.22);"><div style="position:absolute;left:50%;top:50%;transform:translate(-50%,-50%) scale(0.2);font-size:17px;line-height:1.55;color:#444;text-align:center;letter-spacing:0.08em;white-space:nowrap;">trip the find<br>bag for it<br>page and with<br>home save<br>is get</div></div>
<div style="left:603.8px;top:646px;width:32.1px;height:33.2px;background:#96D081;box-shadow:0.3px 1.4px 1px -0.3px rgba(0,0,0,.22);"><div style="position:absolute;left:50%;top:50%;transform:translate(-50%,-50%) scale(0.2);font-size:17px;line-height:1.55;color:#444;text-align:center;letter-spacing:0.08em;white-space:nowrap;">map list list<br>select hotel<br>user city<br>the hotel<br>get info</div></div>
<div style="left:569.2px;top:717.6px;width:32.3px;height:33px;background:#96D081;box-shadow:0.3px 1.4px 1px -0.3px rgba(0,0,0,.22);"><div style="position:absolute;left:50%;top:50%;transform:translate(-50%,-50%) scale(0.2);font-size:17.5px;line-height:1.55;color:#444;text-align:center;letter-spacing:0.08em;white-space:nowrap;">find hotel<br>home search<br>map select<br>at deal</div></div>
<div style="left:414.6px;top:753.3px;width:31.1px;height:33px;background:#A9C9EF;box-shadow:0.3px 1.4px 1px -0.3px rgba(0,0,0,.22);"><div style="position:absolute;left:50%;top:50%;transform:translate(-50%,-50%) scale(0.2);font-size:9.5px;line-height:1.25;color:#444;text-align:center;font-weight:bold;white-space:nowrap;">at in info city option page<br>by view sort view at list<br>select date price by price<br>card in route find save fare<br>area at see home page it page<br>by bag map stay show by home<br>save see fare go view trip<br>pay search price</div></div>
<div style="left:63.4px;top:778.2px;width:28.1px;height:8.9px;background:#fff;border-radius:1.5px;box-shadow:inset 0 0 0 0.7px #aaa;"></div>
<div style="left:117.2px;top:784.2px;width:158px;height:35.8px;background:#fff;box-shadow:inset 0 0 0 0.8px #aaa;"></div>
<div class="n" style="left:128.3px;top:796.2px;width:0;height:0;"><div style="position:absolute;left:0;top:0;white-space:nowrap;font-size:21.5px;line-height:1;color:#444;transform:translate(0,-50%) scale(0.2);transform-origin:0 50%;">Low</div></div>
<div class="n" style="left:257.6px;top:796.2px;width:0;height:0;"><div style="position:absolute;left:0;top:0;white-space:nowrap;font-size:21.5px;line-height:1;color:#444;transform:translate(0,-50%) scale(0.2);transform-origin:0 50%;">High</div></div>
<div style="left:143.2px;top:794.2px;width:111.5px;height:3.5px;background:#ddd;"></div>
<div style="left:143.2px;top:794.2px;width:32.8px;height:3.5px;background:#D84B2A;"></div>
<div style="left:209.6px;top:794.2px;width:45.1px;height:3.5px;background:#8ACB55;"></div>
<div style="left:130.2px;top:809.2px;width:27.1px;height:5.8px;background:#F5EC8A;box-shadow:inset 0 0 0 0.6px #bba;"></div>
<div style="left:163.3px;top:808.8px;width:27.1px;height:6.2px;background:#fff;box-shadow:inset 0 0 0 0.6px #aaa;"></div>
<div style="left:198.4px;top:808.8px;width:27.8px;height:6.2px;background:#fff;box-shadow:inset 0 0 0 0.6px #aaa;"></div>
<div style="left:233.5px;top:808.8px;width:27.2px;height:6.2px;background:#fff;box-shadow:inset 0 0 0 0.6px #aaa;"></div>
</div>
<svg width="752" height="812" viewBox="0 0 752 812">
<line x1="475.4" y1="153.2" x2="480.9" y2="153.2" stroke="#888" stroke-width="0.5"/>
<line x1="487.6" y1="153.2" x2="493.1" y2="153.2" stroke="#888" stroke-width="0.5"/>
<line x1="486.5" y1="155" x2="493.1" y2="155" stroke="#777" stroke-width="0.5"/>
<line x1="474.3" y1="158.5" x2="494.2" y2="158.5" stroke="#666" stroke-width="0.7"/>
<line x1="473.6" y1="163.7" x2="482" y2="163.7" stroke="#888" stroke-width="0.5"/>
<path d="M474.3,175.5 L482,172.9 L485.4,169.4 L489.1,169.4 L494.2,175.9" fill="none" stroke="#888" stroke-width="0.4"/>
<line x1="473.2" y1="177.3" x2="495.3" y2="177.3" stroke="#999" stroke-width="0.6"/>
<line x1="474.3" y1="193.8" x2="479.8" y2="193.8" stroke="#777" stroke-width="0.8"/>
<line x1="512.7" y1="151.2" x2="518.3" y2="151.2" stroke="#888" stroke-width="0.6"/>
<line x1="519.4" y1="159.7" x2="524" y2="159.7" stroke="#999" stroke-width="0.5"/>
<line x1="511.5" y1="164.9" x2="514.9" y2="164.9" stroke="#999" stroke-width="0.5"/>
<line x1="546.2" y1="152.8" x2="553" y2="152.8" stroke="#555" stroke-width="0.7"/>
<line x1="546.2" y1="158" x2="553" y2="158" stroke="#999" stroke-width="0.5"/>
<line x1="563" y1="158" x2="564.6" y2="158" stroke="#777" stroke-width="0.6"/>
<line x1="544.7" y1="162.1" x2="546.7" y2="162.1" stroke="#888" stroke-width="0.5"/>
<line x1="549.6" y1="162.1" x2="551.8" y2="162.1" stroke="#aaa" stroke-width="0.5"/>
<line x1="559.7" y1="162.1" x2="562.4" y2="162.1" stroke="#555" stroke-width="0.8"/>
<line x1="563.7" y1="162.1" x2="565.3" y2="162.1" stroke="#999" stroke-width="0.5"/>
<line x1="558.6" y1="164.3" x2="565.3" y2="164.3" stroke="#bbb" stroke-width="0.5"/>
<line x1="544.7" y1="169.1" x2="551.8" y2="169.1" stroke="#999" stroke-width="0.5"/>
<line x1="565.9" y1="171.2" x2="565.9" y2="181.5" stroke="#666" stroke-width="0.8"/>
<path d="M545.1,178.9 L548.5,177.4 L551.8,178.4 L555.2,175.9 L558.6,173.8 L561.9,174.8 L565.3,178.4" fill="none" stroke="#d66" stroke-width="0.5"/>
<path d="M545.1,179.5 L550.7,178.9 L555.2,177.4 L559.7,175.9 L565.3,177.9" fill="none" stroke="#9c9" stroke-width="0.4"/>
<line x1="546.2" y1="182.9" x2="546.9" y2="182.9" stroke="#999" stroke-width="0.5"/>
<line x1="548.9" y1="182.9" x2="549.6" y2="182.9" stroke="#999" stroke-width="0.5"/>
<line x1="551.6" y1="182.9" x2="552.3" y2="182.9" stroke="#999" stroke-width="0.5"/>
<line x1="554.3" y1="182.9" x2="555" y2="182.9" stroke="#999" stroke-width="0.5"/>
<line x1="557" y1="182.9" x2="557.7" y2="182.9" stroke="#999" stroke-width="0.5"/>
<line x1="559.7" y1="182.9" x2="560.4" y2="182.9" stroke="#999" stroke-width="0.5"/>
<line x1="562.4" y1="182.9" x2="563" y2="182.9" stroke="#999" stroke-width="0.5"/>
<line x1="545.1" y1="186.9" x2="553" y2="186.9" stroke="#aaa" stroke-width="0.5"/>
<line x1="546.2" y1="201.3" x2="564.2" y2="201.3" stroke="#888" stroke-width="0.6"/>
<line x1="548.5" y1="224" x2="554.1" y2="224" stroke="#888" stroke-width="0.6"/>
<line x1="555.3" y1="232.4" x2="559.8" y2="232.4" stroke="#999" stroke-width="0.5"/>
<line x1="547.3" y1="237.6" x2="550.7" y2="237.6" stroke="#999" stroke-width="0.5"/>
<line x1="586.3" y1="224" x2="593" y2="224" stroke="#888" stroke-width="0.6"/>
<line x1="580.7" y1="238.1" x2="584.1" y2="238.1" stroke="#999" stroke-width="0.5"/>
<line x1="580" y1="250.1" x2="585.2" y2="250.1" stroke="#888" stroke-width="0.5"/>
<line x1="580.7" y1="253.2" x2="586.3" y2="253.2" stroke="#999" stroke-width="0.5"/>
<line x1="580.7" y1="256.3" x2="586.3" y2="256.3" stroke="#999" stroke-width="0.5"/>
<line x1="580.7" y1="259.5" x2="586.3" y2="259.5" stroke="#999" stroke-width="0.5"/>
<line x1="580.7" y1="262.6" x2="586.3" y2="262.6" stroke="#999" stroke-width="0.5"/>
<line x1="614.2" y1="224.6" x2="620.2" y2="224.6" stroke="#777" stroke-width="0.6"/>
<line x1="613.2" y1="229.9" x2="624.2" y2="229.9" stroke="#aaa" stroke-width="0.5"/>
<line x1="626.2" y1="229.9" x2="632.3" y2="229.9" stroke="#888" stroke-width="0.5"/>
<line x1="613.7" y1="240.2" x2="618.2" y2="240.2" stroke="#555" stroke-width="0.8"/>
<line x1="625.2" y1="240.2" x2="632.3" y2="240.2" stroke="#777" stroke-width="0.5"/>
<line x1="625.2" y1="242.4" x2="632.3" y2="242.4" stroke="#aaa" stroke-width="0.5"/>
<line x1="613.7" y1="247.1" x2="618.2" y2="247.1" stroke="#555" stroke-width="0.8"/>
<line x1="625.2" y1="247.1" x2="632.3" y2="247.1" stroke="#777" stroke-width="0.5"/>
<line x1="625.2" y1="249.3" x2="632.3" y2="249.3" stroke="#aaa" stroke-width="0.5"/>
<line x1="613.7" y1="254" x2="618.2" y2="254" stroke="#555" stroke-width="0.8"/>
<line x1="625.2" y1="254" x2="632.3" y2="254" stroke="#777" stroke-width="0.5"/>
<line x1="625.2" y1="256.2" x2="632.3" y2="256.2" stroke="#aaa" stroke-width="0.5"/>
<line x1="613.7" y1="260.9" x2="618.2" y2="260.9" stroke="#555" stroke-width="0.8"/>
<line x1="625.2" y1="260.9" x2="632.3" y2="260.9" stroke="#777" stroke-width="0.5"/>
<line x1="625.2" y1="263.1" x2="632.3" y2="263.1" stroke="#aaa" stroke-width="0.5"/>
<line x1="613.7" y1="267.8" x2="618.2" y2="267.8" stroke="#555" stroke-width="0.8"/>
<line x1="625.2" y1="267.8" x2="632.3" y2="267.8" stroke="#777" stroke-width="0.5"/>
<line x1="625.2" y1="270" x2="632.3" y2="270" stroke="#aaa" stroke-width="0.5"/>
<line x1="650.6" y1="225.3" x2="657.2" y2="225.3" stroke="#555" stroke-width="0.7"/>
<line x1="650.6" y1="231.2" x2="657.2" y2="231.2" stroke="#999" stroke-width="0.5"/>
<line x1="667.2" y1="231.2" x2="668.7" y2="231.2" stroke="#777" stroke-width="0.6"/>
<line x1="649.1" y1="237.1" x2="651.1" y2="237.1" stroke="#888" stroke-width="0.5"/>
<line x1="653.9" y1="237.1" x2="656.1" y2="237.1" stroke="#aaa" stroke-width="0.5"/>
<line x1="663.9" y1="237.1" x2="666.5" y2="237.1" stroke="#555" stroke-width="0.8"/>
<line x1="667.8" y1="237.1" x2="669.4" y2="237.1" stroke="#999" stroke-width="0.5"/>
<line x1="662.8" y1="240.3" x2="669.4" y2="240.3" stroke="#bbb" stroke-width="0.5"/>
<line x1="649.1" y1="245.6" x2="656.1" y2="245.6" stroke="#999" stroke-width="0.5"/>
<line x1="670" y1="247.7" x2="670" y2="259.3" stroke="#666" stroke-width="0.8"/>
<path d="M649.5,256.4 L652.8,254.7 L656.1,255.8 L659.5,252.9 L662.8,250.6 L666.1,251.8 L669.4,255.8" fill="none" stroke="#d66" stroke-width="0.5"/>
<path d="M649.5,257 L655,256.4 L659.5,254.7 L663.9,252.9 L669.4,255.2" fill="none" stroke="#9c9" stroke-width="0.4"/>
<line x1="650.6" y1="260.6" x2="651.3" y2="260.6" stroke="#999" stroke-width="0.5"/>
<line x1="653.3" y1="260.6" x2="653.9" y2="260.6" stroke="#999" stroke-width="0.5"/>
<line x1="655.9" y1="260.6" x2="656.6" y2="260.6" stroke="#999" stroke-width="0.5"/>
<line x1="658.6" y1="260.6" x2="659.2" y2="260.6" stroke="#999" stroke-width="0.5"/>
<line x1="661.2" y1="260.6" x2="661.9" y2="260.6" stroke="#999" stroke-width="0.5"/>
<line x1="663.9" y1="260.6" x2="664.5" y2="260.6" stroke="#999" stroke-width="0.5"/>
<line x1="666.5" y1="260.6" x2="667.2" y2="260.6" stroke="#999" stroke-width="0.5"/>
<line x1="649.5" y1="264.5" x2="657.2" y2="264.5" stroke="#aaa" stroke-width="0.5"/>
<line x1="650.6" y1="272.3" x2="668.3" y2="272.3" stroke="#888" stroke-width="0.6"/>
<line x1="575" y1="157.5" x2="580" y2="157.5" stroke="#888" stroke-width="0.5"/>
<line x1="575" y1="159.5" x2="596" y2="159.5" stroke="#888" stroke-width="0.5"/>
<line x1="575" y1="161.5" x2="589" y2="161.5" stroke="#888" stroke-width="0.5"/>
<line x1="575" y1="163.2" x2="583" y2="163.2" stroke="#888" stroke-width="0.5"/>
<line x1="208" y1="227.6" x2="227" y2="227.6" stroke="#bbb" stroke-width="0.6"/>
<line x1="208" y1="229.2" x2="222" y2="229.2" stroke="#ccc" stroke-width="0.5"/>
<line x1="331.5" y1="190.5" x2="342" y2="190.5" stroke="#999" stroke-width="0.5"/>
<line x1="344" y1="190.5" x2="350" y2="190.5" stroke="#bbb" stroke-width="0.5"/>
<line x1="359.5" y1="182.5" x2="364" y2="182.5" stroke="#bbb" stroke-width="0.4"/>
<line x1="359.5" y1="185.5" x2="364" y2="185.5" stroke="#bbb" stroke-width="0.4"/>
<line x1="359.5" y1="188.5" x2="364" y2="188.5" stroke="#bbb" stroke-width="0.4"/>
<line x1="359.5" y1="191.5" x2="364" y2="191.5" stroke="#bbb" stroke-width="0.4"/>
<line x1="359.5" y1="195.5" x2="364" y2="195.5" stroke="#bbb" stroke-width="0.4"/>
<line x1="359.5" y1="198.5" x2="364" y2="198.5" stroke="#bbb" stroke-width="0.4"/>
<line x1="369" y1="196" x2="372" y2="196" stroke="#bbb" stroke-width="0.4"/>
<line x1="103.2" y1="221.5" x2="108.3" y2="221.5" stroke="#888" stroke-width="0.5"/>
<line x1="114.6" y1="221.5" x2="119.7" y2="221.5" stroke="#888" stroke-width="0.5"/>
<line x1="113.5" y1="223.2" x2="119.7" y2="223.2" stroke="#777" stroke-width="0.5"/>
<line x1="102.1" y1="226.6" x2="120.8" y2="226.6" stroke="#666" stroke-width="0.7"/>
<line x1="101.5" y1="231.8" x2="109.4" y2="231.8" stroke="#888" stroke-width="0.5"/>
<path d="M102.1,243.4 L109.4,240.8 L112.5,237.3 L116,237.3 L120.8,243.8" fill="none" stroke="#888" stroke-width="0.4"/>
<line x1="101.1" y1="245.1" x2="121.8" y2="245.1" stroke="#999" stroke-width="0.6"/>
<line x1="102.1" y1="261.3" x2="107.3" y2="261.3" stroke="#777" stroke-width="0.8"/>
<line x1="141.4" y1="218.6" x2="147" y2="218.6" stroke="#888" stroke-width="0.6"/>
<line x1="148.2" y1="227" x2="152.7" y2="227" stroke="#999" stroke-width="0.5"/>
<line x1="140.2" y1="232.2" x2="143.6" y2="232.2" stroke="#999" stroke-width="0.5"/>
<line x1="172.5" y1="220.5" x2="179.3" y2="220.5" stroke="#555" stroke-width="0.7"/>
<line x1="172.5" y1="226.9" x2="179.3" y2="226.9" stroke="#999" stroke-width="0.5"/>
<line x1="189.6" y1="226.9" x2="191.2" y2="226.9" stroke="#777" stroke-width="0.6"/>
<line x1="170.9" y1="233.7" x2="172.9" y2="233.7" stroke="#888" stroke-width="0.5"/>
<line x1="175.9" y1="233.7" x2="178.2" y2="233.7" stroke="#aaa" stroke-width="0.5"/>
<line x1="186.2" y1="233.7" x2="188.9" y2="233.7" stroke="#555" stroke-width="0.8"/>
<line x1="190.3" y1="233.7" x2="191.9" y2="233.7" stroke="#999" stroke-width="0.5"/>
<line x1="185" y1="237.4" x2="191.9" y2="237.4" stroke="#bbb" stroke-width="0.5"/>
<line x1="170.9" y1="243" x2="178.2" y2="243" stroke="#999" stroke-width="0.5"/>
<line x1="192.5" y1="245.1" x2="192.5" y2="256.3" stroke="#666" stroke-width="0.8"/>
<path d="M171.3,253.5 L174.8,251.8 L178.2,252.9 L181.6,250.1 L185,247.9 L188.4,249 L191.9,252.9" fill="none" stroke="#d66" stroke-width="0.5"/>
<path d="M171.3,254.1 L177,253.5 L181.6,251.8 L186.2,250.1 L191.9,252.4" fill="none" stroke="#9c9" stroke-width="0.4"/>
<line x1="172.5" y1="257.6" x2="173.2" y2="257.6" stroke="#999" stroke-width="0.5"/>
<line x1="175.2" y1="257.6" x2="175.9" y2="257.6" stroke="#999" stroke-width="0.5"/>
<line x1="178" y1="257.6" x2="178.6" y2="257.6" stroke="#999" stroke-width="0.5"/>
<line x1="180.7" y1="257.6" x2="181.4" y2="257.6" stroke="#999" stroke-width="0.5"/>
<line x1="183.4" y1="257.6" x2="184.1" y2="257.6" stroke="#999" stroke-width="0.5"/>
<line x1="186.2" y1="257.6" x2="186.8" y2="257.6" stroke="#999" stroke-width="0.5"/>
<line x1="188.9" y1="257.6" x2="189.6" y2="257.6" stroke="#999" stroke-width="0.5"/>
<line x1="171.3" y1="261.6" x2="179.3" y2="261.6" stroke="#aaa" stroke-width="0.5"/>
<line x1="172.5" y1="267.8" x2="190.7" y2="267.8" stroke="#888" stroke-width="0.6"/>
<line x1="174.2" y1="291.1" x2="179.8" y2="291.1" stroke="#888" stroke-width="0.6"/>
<line x1="180.9" y1="299.5" x2="185.4" y2="299.5" stroke="#999" stroke-width="0.5"/>
<line x1="173.1" y1="304.7" x2="176.5" y2="304.7" stroke="#999" stroke-width="0.5"/>
<line x1="212.7" y1="291.1" x2="219.7" y2="291.1" stroke="#888" stroke-width="0.6"/>
<line x1="207" y1="305.3" x2="210.4" y2="305.3" stroke="#999" stroke-width="0.5"/>
<line x1="206.3" y1="317.4" x2="211.6" y2="317.4" stroke="#888" stroke-width="0.5"/>
<line x1="207" y1="320.5" x2="212.7" y2="320.5" stroke="#999" stroke-width="0.5"/>
<line x1="207" y1="323.7" x2="212.7" y2="323.7" stroke="#999" stroke-width="0.5"/>
<line x1="207" y1="326.8" x2="212.7" y2="326.8" stroke="#999" stroke-width="0.5"/>
<line x1="207" y1="330" x2="212.7" y2="330" stroke="#999" stroke-width="0.5"/>
<line x1="240.4" y1="290.6" x2="246" y2="290.6" stroke="#888" stroke-width="0.6"/>
<line x1="239.3" y1="296.9" x2="244.9" y2="296.9" stroke="#999" stroke-width="0.5"/>
<line x1="240" y1="302.4" x2="246" y2="302.4" stroke="#777" stroke-width="0.6"/>
<line x1="251.6" y1="303.4" x2="258.7" y2="303.4" stroke="#999" stroke-width="0.5"/>
<line x1="240" y1="308.1" x2="247.1" y2="308.1" stroke="#999" stroke-width="0.5"/>
<line x1="251.6" y1="309.1" x2="258.7" y2="309.1" stroke="#999" stroke-width="0.5"/>
<line x1="251.6" y1="310.4" x2="258.7" y2="310.4" stroke="#888" stroke-width="0.5"/>
<line x1="240" y1="315.9" x2="246" y2="315.9" stroke="#777" stroke-width="0.6"/>
<line x1="251.6" y1="316.9" x2="258.7" y2="316.9" stroke="#999" stroke-width="0.5"/>
<line x1="240" y1="321.6" x2="247.1" y2="321.6" stroke="#999" stroke-width="0.5"/>
<line x1="251.6" y1="322.6" x2="258.7" y2="322.6" stroke="#999" stroke-width="0.5"/>
<line x1="251.6" y1="323.9" x2="258.7" y2="323.9" stroke="#888" stroke-width="0.5"/>
<line x1="231.7" y1="372.1" x2="237.2" y2="372.1" stroke="#888" stroke-width="0.6"/>
<line x1="230.6" y1="378.4" x2="236.1" y2="378.4" stroke="#999" stroke-width="0.5"/>
<line x1="231.3" y1="383.9" x2="237.2" y2="383.9" stroke="#777" stroke-width="0.6"/>
<line x1="242.6" y1="384.9" x2="249.6" y2="384.9" stroke="#999" stroke-width="0.5"/>
<line x1="231.3" y1="386.5" x2="238.3" y2="386.5" stroke="#999" stroke-width="0.5"/>
<line x1="242.6" y1="387.5" x2="249.6" y2="387.5" stroke="#999" stroke-width="0.5"/>
<line x1="242.6" y1="385.5" x2="249.6" y2="385.5" stroke="#888" stroke-width="0.5"/>
<line x1="231.3" y1="391" x2="237.2" y2="391" stroke="#777" stroke-width="0.6"/>
<line x1="242.6" y1="392" x2="249.6" y2="392" stroke="#999" stroke-width="0.5"/>
<line x1="231.3" y1="393.6" x2="238.3" y2="393.6" stroke="#999" stroke-width="0.5"/>
<line x1="242.6" y1="394.6" x2="249.6" y2="394.6" stroke="#999" stroke-width="0.5"/>
<line x1="242.6" y1="392.7" x2="249.6" y2="392.7" stroke="#888" stroke-width="0.5"/>
</svg>
</div></body></html>
